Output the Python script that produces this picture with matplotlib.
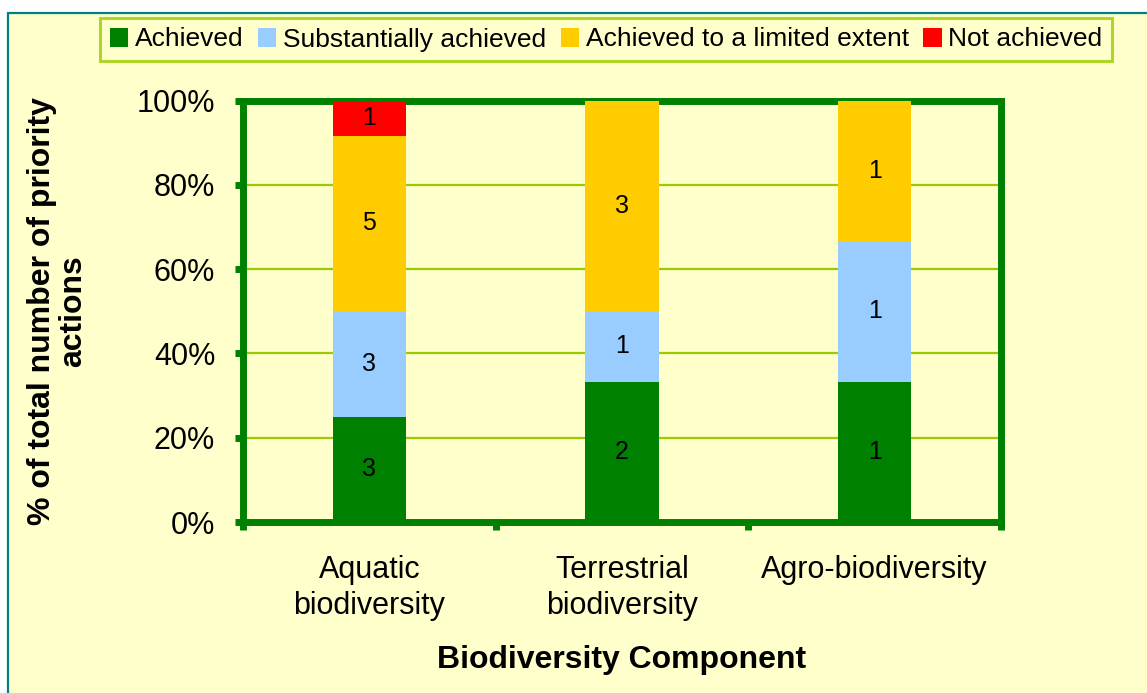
import matplotlib
matplotlib.use('Agg')
import matplotlib.pyplot as plt
import numpy as np
from matplotlib.patches import Rectangle

plt.rcParams['font.family'] = ['Liberation Sans', 'DejaVu Sans']

categories = ['Aquatic\nbiodiversity', 'Terrestrial\nbiodiversity', 'Agro-biodiversity']
series_names = ['Achieved', 'Substantially achieved', 'Achieved to a limited extent', 'Not achieved']
counts = {
    'Achieved': [3, 2, 1],
    'Substantially achieved': [3, 1, 1],
    'Achieved to a limited extent': [5, 3, 1],
    'Not achieved': [1, 0, 0],
}
colors = ['#008000', '#99CCFF', '#FFCC00', '#FF0000']
yticks = [0, 20, 40, 60, 80, 100]

bg = '#FFFFCC'
W, H = 1147, 693
fig = plt.figure(figsize=(W / 100, H / 100), dpi=100)
fig.patch.set_facecolor('white')

# chart frame (runs off the right and bottom edge)
frame = Rectangle((8 / W, -0.05), 1.2, (H - 13) / H + 0.05, transform=fig.transFigure,
                  facecolor=bg, edgecolor='#008080', linewidth=1.6, zorder=-10)
fig.patches.append(frame)

ax = fig.add_axes([243 / W, (H - 522) / H, 758 / W, 421.5 / H])
ax.set_facecolor(bg)

x = np.arange(len(categories))
totals = np.sum([counts[s] for s in series_names], axis=0)
bottom = np.zeros(len(categories))
handles = []
for name, col in zip(series_names, colors):
    vals = np.array(counts[name], dtype=float)
    pct = vals / totals * 100
    b = ax.bar(x, pct, 0.29, bottom=bottom, color=col, label=name, zorder=3)
    handles.append(b)
    for xi, v, p, b0 in zip(x, vals, pct, bottom):
        if v > 0:
            ax.text(xi, b0 + p / 2, '%d' % v, ha='center', va='center', fontsize=18, zorder=4)
    bottom += pct

ax.set_xlim(-0.5, 2.5)
ax.set_ylim(0, 100)
ax.set_yticks(yticks)
ax.set_yticklabels(['%d%%' % t for t in yticks], fontsize=22)
ax.yaxis.grid(True, color='#99CC00', linewidth=1.6, zorder=1)
ax.set_axisbelow(True)

ax.set_xticks(x)
ax.set_xticklabels(categories, fontsize=22, linespacing=1.25)
ax.set_xticks([-0.5, 0.5, 1.5, 2.5], minor=True)
ax.tick_params(axis='x', which='major', length=0, pad=24)
ax.tick_params(axis='x', which='minor', length=6, width=5, color='#008000', direction='out')
ax.tick_params(axis='y', length=6, width=5, color='#008000', direction='out', pad=14)

for sp in ax.spines.values():
    sp.set_color('#008000')
    sp.set_linewidth(5)

ax.set_xlabel('Biodiversity Component', fontsize=23, fontweight='bold', labelpad=17)
ax.set_ylabel('% of total number of priority\nactions', fontsize=23, fontweight='bold',
              linespacing=1.05, labelpad=35)

leg = fig.legend(handles=handles, labels=series_names, loc='center',
                 bbox_to_anchor=(606 / W, 1 - 39.5 / H), ncol=4, fontsize=19,
                 frameon=True, fancybox=False, handlelength=0.7, handleheight=0.7,
                 handletextpad=0.25, columnspacing=0.55, borderpad=0.35)
leg.get_frame().set_edgecolor('#99CC00')
leg.get_frame().set_linewidth(2.2)
leg.get_frame().set_facecolor(bg)

fig.savefig('out.png', dpi=100, facecolor=fig.get_facecolor())
